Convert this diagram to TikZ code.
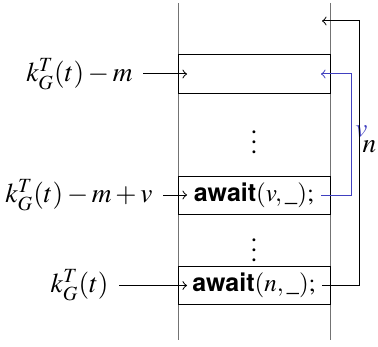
\documentclass[tikz,border=0pt]{standalone}
\usepackage{mathptmx}
\usepackage[no-math]{fontspec}
\setmainfont{TeX Gyre Termes}
\setsansfont{TeX Gyre Heros}
\definecolor{linkblue}{RGB}{64,64,192}
\tikzset{
  every node/.style={font=\fontsize{10.9pt}{13pt}\selectfont},
  rail/.style={draw=black!55},
  cell/.style={draw=black, fill=white, minimum width=60.8pt, minimum height=15.2pt, inner sep=0pt, font=\fontsize{10pt}{12pt}\selectfont},
  lbl/.style={anchor=east, inner sep=0pt, inner xsep=4pt},
  conn/.style={->},
  bconn/.style={->, draw=linkblue},
}
\newcommand{\aw}{\textsf{\bfseries await}}
\begin{document}
\begin{tikzpicture}[x=0.4pt,y=-0.4pt]
\useasboundingbox (0,0) rectangle (378,346);
% rails
\draw[rail] (178,3) -- (178,340);
\draw[rail] (330,3) -- (330,340);
% cells
\node[cell] (b1) at (254,74) {};
\node[cell] (b2) at (254,195) {\aw$(v,\_);$};
\node[cell] (b3) at (254,285.5) {\aw$(n,\_);$};
% dots
\node (d1) at (254,135) {$\vdots$};
\node (d2) at (254,243) {$\vdots$};
% left labels
\node[lbl] (l1) at (143,74) {$k_G^T(t)-m$};
\node[lbl] (l2) at (163,195) {$k_G^T(t)-m+v$};
\node[lbl] (l3) at (119,285.5) {$k_G^T(t)$};
% coordinates inside cells
\coordinate (i1) at (187,74);
\coordinate (i2) at (187,195);
\coordinate (i3) at (187,285.5);
\coordinate (r1) at (321,74);
\coordinate (r2) at (321,195);
\coordinate (r3) at (322,285.5);
\coordinate (top) at (322,21);
% connectors
\draw[conn] (l1.east) -- (i1);
\draw[conn] (l2.east) -- (i2);
\draw[conn] (l3.east) -- (i3);
\draw[bconn] (r2) -- ++(30,0) |- node[pos=0.25, right, inner sep=1.5pt, text=linkblue, yshift=1pt] {$v$} (r1);
\draw[conn] (r3) -- ++(37,0) |- node[pos=0.25, right, inner sep=1.2pt, yshift=2.5pt] {$n$} (top);
\end{tikzpicture}
\end{document}
